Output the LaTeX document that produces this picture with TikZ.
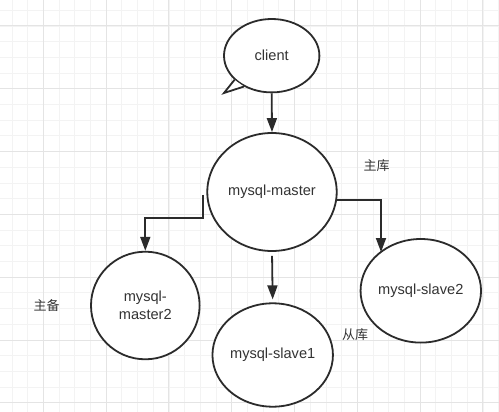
\documentclass[tikz,border=0pt]{standalone}
\usepackage{fontspec}
\setmainfont{Liberation Sans}
\newfontfamily\cjk{Noto Sans CJK SC}
\usetikzlibrary{shapes.geometric,arrows.meta}
\definecolor{linec}{HTML}{2B2B2B}
\definecolor{textc}{HTML}{333333}
\definecolor{minorg}{HTML}{F3F3F3}
\definecolor{majorg}{HTML}{E4E4E4}
\begin{document}
\begin{tikzpicture}[x=1pt,y=-1pt,
  minorgrid/.style={draw=minorg,line width=0.9pt},
  majorgrid/.style={draw=majorg,line width=1pt},
  circ/.style={ellipse,draw=linec,line width=1.8pt,fill=white,inner sep=0pt,
    text=textc,font=\fontsize{14.6}{18}\selectfont,align=center},
  arr/.style={draw=linec,line width=1.8pt,-{Triangle[length=14pt,width=10pt]}},
  lbl/.style={text=textc,font=\cjk\fontsize{13}{15}\selectfont,inner sep=0pt}]
\useasboundingbox (0,0) rectangle (499,412);
\fill[white] (0,0) rectangle (499,412);
% grid
\foreach \i in {0,...,31} \draw[minorgrid] ({12+15.7*\i},0) -- ({12+15.7*\i},412);
\foreach \j in {0,...,25} \draw[minorgrid] (0,{10.3+15.7*\j}) -- (499,{10.3+15.7*\j});
\foreach \i in {0,...,7} \draw[majorgrid] ({43.3+62.8*\i},0) -- ({43.3+62.8*\i},412);
\foreach \j in {0,...,6} \draw[majorgrid] (0,{26+62.8*\j}) -- (499,{26+62.8*\j});
% nodes
\node[circ,minimum width=95.4pt,minimum height=73.4pt] (client) at (271.7,55.7) {client};
\coordinate (tip) at (224,93);
\fill[white] (client.213) -- (tip) -- (client.228) -- cycle;
\draw[linec,line width=1.8pt,line join=miter] (client.213) -- (tip) -- (client.228);
\node[circ,minimum width=129.4pt,minimum height=118pt] (master) at (272,192) {mysql-master};
\node[circ,minimum width=108.6pt,minimum height=107.6pt] (master2) at (145.3,305.5) {mysql-\\master2};
\node[circ,minimum width=104.4pt,minimum height=103.4pt] (slave1) at (272.7,355) {mysql-slave1};
\node[circ,minimum width=106.4pt,minimum height=103.6pt] (slave2) at (420.8,290.8) {mysql-slave2};
% labels
\node[lbl] (l1) at (376.7,166) {主库};
\node[lbl] (l2) at (46.7,306) {主备};
\node[lbl] (l3) at (355,335) {从库};
% connectors
\draw[arr] (client.south) -- (master.north);
\coordinate (ml) at (203.3,195);
\coordinate (kl) at (145.3,217.7);
\draw[arr] (ml) |- (kl) -- (master2.north);
\coordinate (mr) at (336.3,200);
\coordinate (tr) at (381,252);
\draw[arr] (mr) -| (tr);
\draw[arr,shorten <=4pt,shorten >=3pt] (master.south) -- (slave1.north);
\end{tikzpicture}
\end{document}
